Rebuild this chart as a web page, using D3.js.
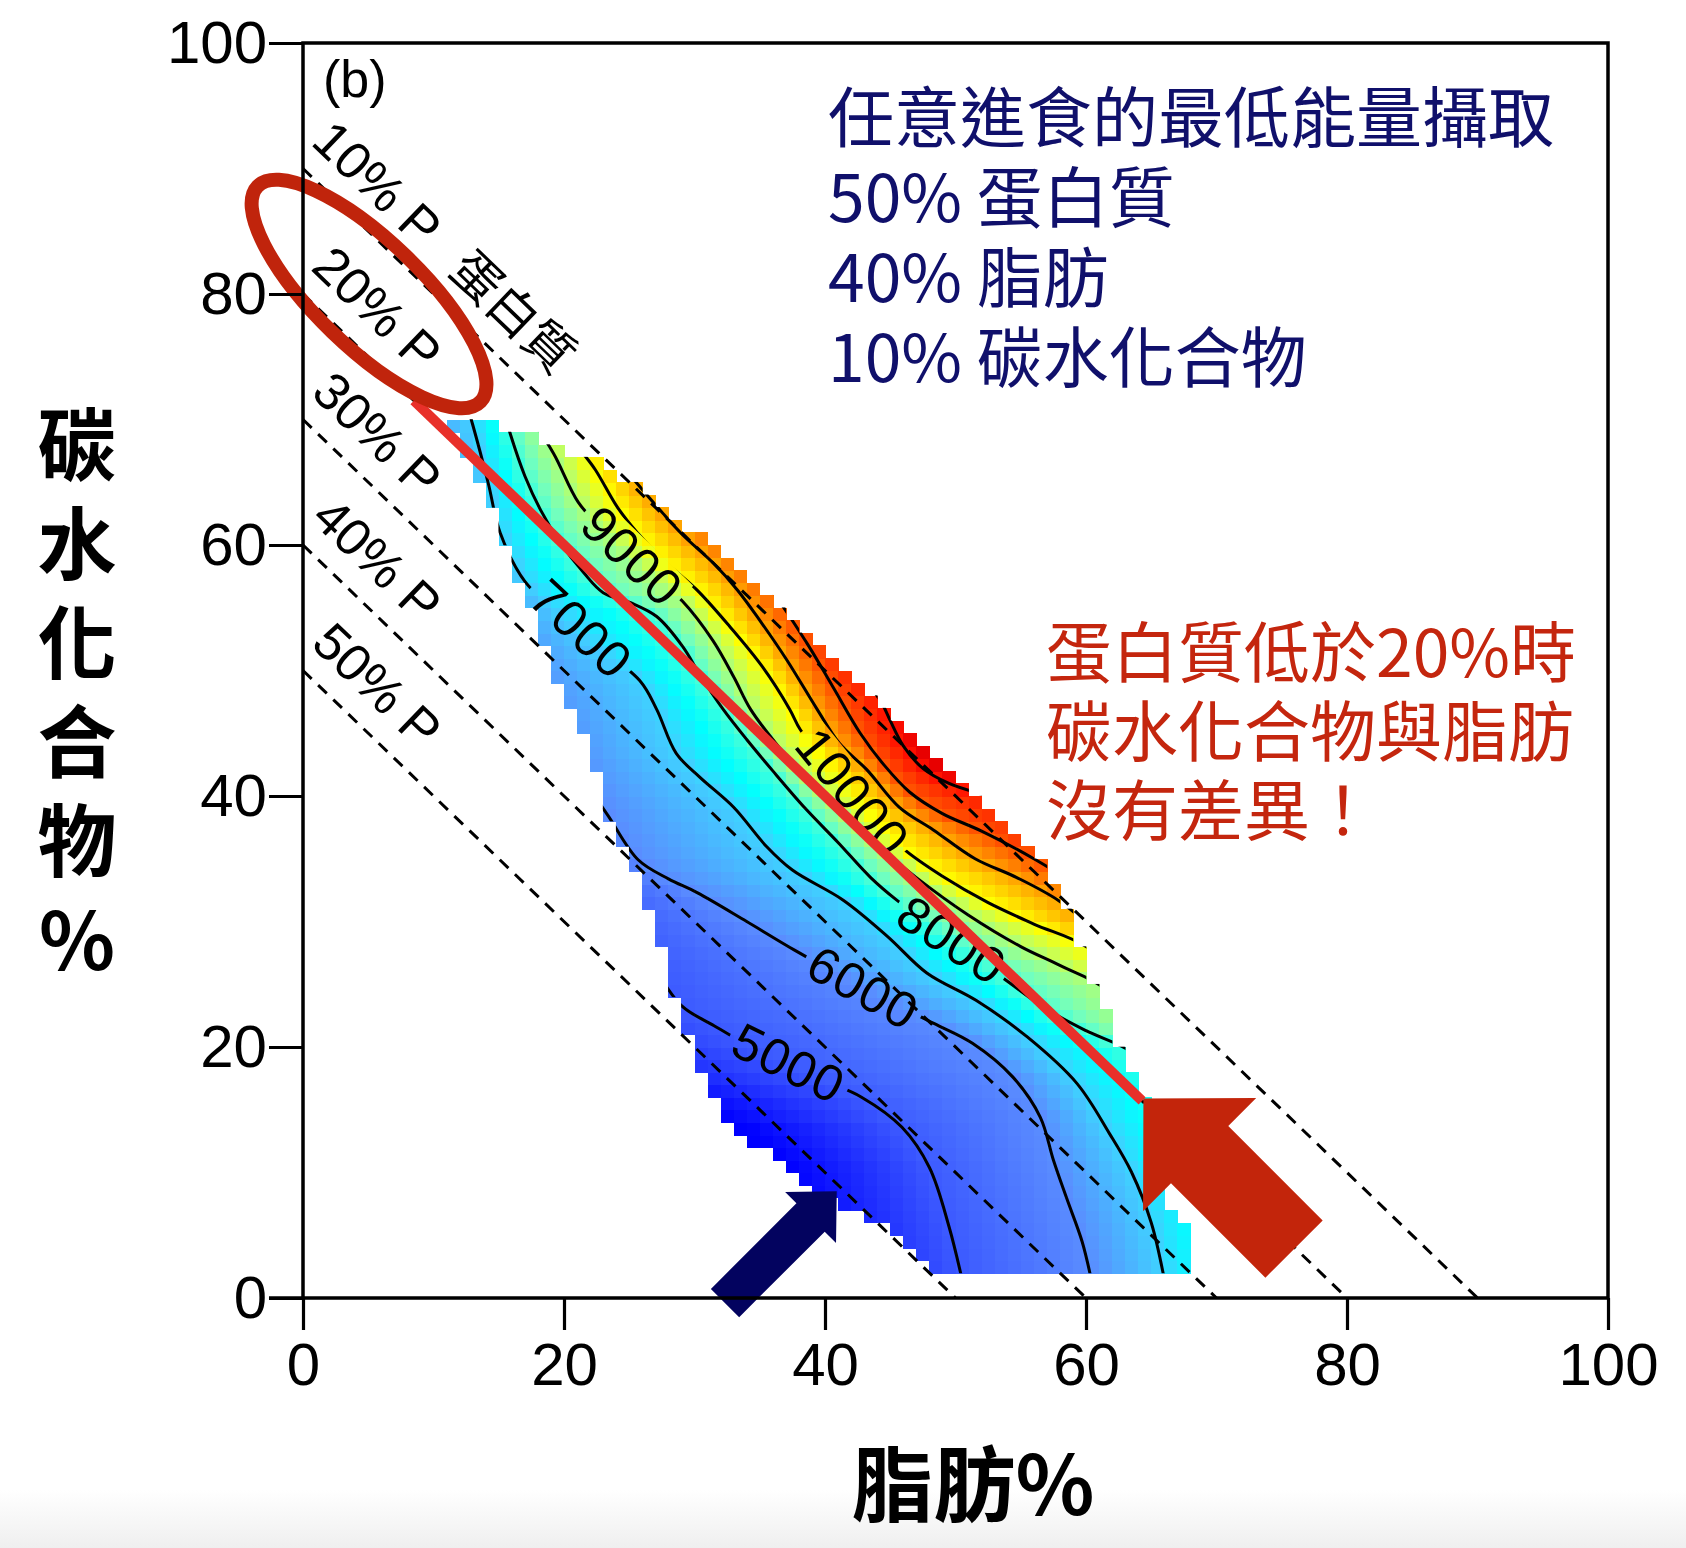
<!DOCTYPE html>
<html><head><meta charset="utf-8">
<script src="https://cdn.jsdelivr.net/npm/d3@7"></script>
<style>
html,body{margin:0;padding:0;background:#fff;}
svg{display:block;}
</style></head>
<body><svg id="chart" width="1686" height="1548"></svg>
<script>
// ---------------- data ----------------
const xTicks = [0, 20, 40, 60, 80, 100];
const yTicks = [0, 20, 40, 60, 80, 100];
const proteinLevels = [10, 20, 30, 40, 50];
const proteinLabels = ["10% P", "20% P", "30% P", "40% P", "50% P"];
const contourLevels = [5000, 6000, 7000, 8000, 9000, 10000, 11000, 12000, 13000];
// contour lines, [fat %, carbohydrate %] (end points may run past the sampled region, where they are clipped)
const c5000 = [[2,71],[5,64],[9,56],[14,47],[19,39],[23,32.5],[26.5,27],[29,23.3],[31.5,21.7],[34,20.2],[37.3,18.6],[40,17.3],[42.8,16],[45.9,13.6],[48,10.4],[49.5,5.7],[50.5,1.5]];
const c6000 = [[7.5,71],[10,65],[13.5,58],[17,50],[20.5,43],[23.4,38.4],[25.7,34.9],[28,33.4],[30.2,32.3],[34,30],[37.7,27.7],[43.1,24.6],[48.3,21.9],[51.3,20.3],[54.4,17.6],[56.5,14.4],[57.5,11],[58.5,8],[59.7,4.5],[60.4,1.5]];
const c7000 = [[12.6,71],[13,69.6],[14.2,64.9],[15.1,61],[17,57.1],[21.3,53],[25.8,49.2],[27.1,46.9],[28.6,43.4],[30.4,41.5],[33,39.1],[35.5,36],[37.5,34.1],[41.4,31.7],[44.8,28.8],[47.8,25.9],[51.6,23.7],[55.5,20.8],[59.3,17.1],[61.8,13.1],[63.5,10],[65,6],[66,1.5]];
const c8000 = [[15.3,71],[15.9,68.8],[17,65.5],[18.2,62.8],[19.7,60.2],[21.5,57.8],[23,56.2],[25.1,55.4],[27.1,54.3],[29.1,51.9],[30.5,49.5],[32.2,46.9],[34,44.5],[36,42],[38.5,39],[41,36.3],[43.5,33.5],[45.5,31.7],[49.7,28.5],[53.9,25.3],[57,23],[60,21.3],[63.5,19.6],[66,17],[69,12]];
const c9000 = [[17.4,70.2],[19.2,67.3],[21.1,63.4],[23,61.2],[25,59.3],[27,57.4],[29.1,55.5],[31.4,52.4],[33,49.5],[34.3,46.9],[36,44.5],[38,42],[40.5,39.5],[43.5,36.5],[47,33.5],[51,30.5],[55,28],[58,26.5],[61.5,24.6],[64,21],[67,17]];
const c10000 = [[19.5,71],[21,68],[22.4,66],[24.1,63],[25.6,61],[27.6,58.8],[30.2,56.4],[32.7,53.5],[35.2,50.3],[37.3,46.9],[38.1,45.3],[40,42.8],[42,40.4],[44,38],[46,35.8],[49,33.6],[52.5,31.5],[56,29.8],[60,28],[63,25],[66,21]];
const c11000 = [[21.5,71],[22.5,69],[24.5,66.3],[27.6,62.5],[29.1,60.8],[31.4,58.6],[33.3,56.4],[35,54],[37.1,50.8],[39.4,46.9],[41.1,44.2],[43.2,42.1],[45.7,39.1],[48.3,37.3],[51.5,35],[54.7,33.5],[58,31.6],[61,29],[64,26]];
const c12000 = [[25,71],[28,66],[32,61],[35.8,56.5],[38.6,52.2],[40.6,48.7],[42.7,45],[44.5,42.5],[46.5,40.3],[49,38.6],[52,37.2],[56,35],[59,33],[62,30]];
const c13000 = [[27,71],[30,66],[33,62],[37,57],[41,52],[44.3,47.5],[45,46],[46,44],[47.5,42.2],[49.5,41],[53,39.8],[56,38.5],[59,37]];
const contourLines = [c5000, c6000, c7000, c8000, c9000, c10000, c11000, c12000, c13000];
// outline of the sampled diet region, [fat %, carbohydrate %]
const regionBoundary = [[11,70],[15,70],[15.5,69.3],[19,68.2],[23,66.3],[26,64.5],[30,61],[35,56.2],[40,51.3],[45,46.3],[50,41.3],[55,36.3],[57.5,33.5],[59,29.5],[60.5,25],[62.5,20.5],[64.5,16.5],[65.5,12],[66.5,7.5],[67.6,5.5],[67.6,2],[48.3,2],[46,4.9],[42.7,6.6],[39.4,8.3],[36.1,11.3],[32.8,13.5],[31,17],[29.5,21.2],[27.9,26.3],[26.2,32.3],[23.8,37.5],[21.3,45.2],[19,50.5],[17.2,55.5],[14.3,63.2],[12.5,67],[11,70]];
const contourLabels = [
  {text:"5000", fat:37.2, carb:18.7, angle:26},
  {text:"6000", fat:42.9, carb:24.7, angle:29},
  {text:"7000", fat:21.3, carb:53.3, angle:43},
  {text:"8000", fat:49.7, carb:28.5, angle:33},
  {text:"9000", fat:25.2, carb:59.1, angle:44},
  {text:"10000", fat:42.1, carb:40.3, angle:51}
];
const summaryLines = ["任意進食的最低能量攝取", "50% 蛋白質", "40% 脂肪", "10% 碳水化合物"];
const noteLines = ["蛋白質低於20%時", "碳水化合物與脂肪", "沒有差異！"];
const yTitleChars = ["碳", "水", "化", "合", "物", "%"];
const xTitle = "脂肪%";
const panelTag = "(b)";
const proteinWord = "蛋白質";
const highlightLine = [[8.5,71.5],[64.3,15.7]];
const ellipseCentre = [5.06, 80.0];
const blueArrowTip = [40.9, 8.5];
const redArrowTip = [64.4, 15.9];
// colour ramp (jet-like, as it appears in the picture), energy in kJ
const colourStops = [3900, 5000, 6000, 7000, 7500, 8300, 9200, 10000, 11000, 12000, 13000, 13400];
const colourRamp = ["#0000ff", "#3c5aff", "#5a8cff", "#40d0ff", "#00ffff", "#70ffc0", "#c0ff60", "#ffff00", "#ffa400", "#ff5400", "#ff1000", "#e80000"];

// ---------------- drawing ----------------
const svg = d3.select("#chart");
const x = d3.scaleLinear().domain([0, 100]).range([303, 1608]);
const y = d3.scaleLinear().domain([0, 100]).range([1298, 43]);
const colour = d3.scaleLinear().domain(colourStops).range(colourRamp).clamp(true);
const latin = "'Liberation Sans', Arial, Helvetica, sans-serif";
const cjk = "'Noto Sans CJK TC', 'Noto Sans CJK SC', sans-serif";

const defs = svg.append("defs");
const grad = defs.append("linearGradient").attr("id","fade").attr("x1",0).attr("y1",0).attr("x2",0).attr("y2",1);
grad.append("stop").attr("offset","0").attr("stop-color","#ffffff");
grad.append("stop").attr("offset","1").attr("stop-color","#efefef");
svg.append("rect").attr("x",0).attr("y",0).attr("width",1686).attr("height",1548).attr("fill","#fff");
svg.append("rect").attr("x",0).attr("y",1490).attr("width",1686).attr("height",58).attr("fill","url(#fade)");

// energy field between the contour lines, row by row
function crossingsAt(c) {
  const out = [];
  contourLines.forEach((pts, i) => {
    for (let k = 0; k < pts.length - 1; k++) {
      const a = pts[k], b = pts[k + 1];
      if ((a[1] - c) * (b[1] - c) <= 0 && a[1] !== b[1]) {
        const t = (c - a[1]) / (b[1] - a[1]);
        out.push([a[0] + t * (b[0] - a[0]), contourLevels[i]]);
        break;
      }
    }
  });
  return out.sort((a, b) => a[0] - b[0]);
}
function valueAt(f, c) {
  const cr = crossingsAt(c);
  const lo = 3700, hi = 13400;
  if (!cr.length) return null;
  if (cr.length === 1) return Math.max(lo, Math.min(hi, cr[0][1] + (f - cr[0][0]) * 300));
  const n = cr.length;
  if (f <= cr[0][0]) {
    const s = (cr[1][1] - cr[0][1]) / Math.max(0.8, cr[1][0] - cr[0][0]);
    return Math.max(lo, cr[0][1] - (cr[0][0] - f) * s);
  }
  if (f >= cr[n - 1][0]) {
    const s = (cr[n - 1][1] - cr[n - 2][1]) / Math.max(0.8, cr[n - 1][0] - cr[n - 2][0]);
    return Math.min(hi, cr[n - 1][1] + (f - cr[n - 1][0]) * s);
  }
  for (let k = 0; k < n - 1; k++) {
    if (f >= cr[k][0] && f <= cr[k + 1][0]) {
      const t = (f - cr[k][0]) / Math.max(1e-6, cr[k + 1][0] - cr[k][0]);
      return cr[k][1] + t * (cr[k + 1][1] - cr[k][1]);
    }
  }
  return null;
}
const cells = [];
for (let i = 0; i < 100; i++) for (let j = 0; j < 100; j++) {
  const p = [i + 0.5, j + 0.5];
  if (d3.polygonContains(regionBoundary, p)) {
    const v = valueAt(p[0], p[1]);
    if (v !== null) cells.push({f: i, c: j, v});
  }
}
const clip = defs.append("clipPath").attr("id","regionClip");
clip.selectAll("rect").data(cells).join("rect")
  .attr("x", d => x(d.f) - 0.3).attr("y", d => y(d.c + 1) - 0.3)
  .attr("width", d => x(d.f + 1) - x(d.f) + 0.6).attr("height", d => y(d.c) - y(d.c + 1) + 0.6);

svg.append("g").attr("shape-rendering","crispEdges")
  .selectAll("rect").data(cells).join("rect")
  .attr("x", d => x(d.f)).attr("y", d => y(d.c + 1))
  .attr("width", d => x(d.f + 1) - x(d.f) + 0.7).attr("height", d => y(d.c) - y(d.c + 1) + 0.7)
  .attr("fill", d => colour(d.v));

// gaps for the inline contour labels
const labelSize = 51;
const mask = defs.append("mask").attr("id","labelGaps").attr("maskUnits","userSpaceOnUse")
  .attr("x",0).attr("y",0).attr("width",1686).attr("height",1548);
mask.append("rect").attr("x",0).attr("y",0).attr("width",1686).attr("height",1548).attr("fill","#fff");
contourLabels.forEach(l => {
  const w = l.text.length * labelSize * 0.556 + 16;
  mask.append("rect").attr("x", -w / 2).attr("y", -labelSize * 0.42).attr("width", w).attr("height", labelSize * 0.84)
    .attr("transform", `translate(${x(l.fat)},${y(l.carb)}) rotate(${l.angle})`).attr("fill","#000");
});
const line = d3.line().x(d => x(d[0])).y(d => y(d[1])).curve(d3.curveCatmullRom.alpha(0.5));
svg.append("g").attr("clip-path","url(#regionClip)").append("g").attr("mask","url(#labelGaps)")
  .selectAll("path").data(contourLines).join("path")
  .attr("d", line).attr("fill","none").attr("stroke","#000").attr("stroke-width",3);
svg.append("g").selectAll("text").data(contourLabels).join("text")
  .attr("transform", d => `translate(${x(d.fat)},${y(d.carb)}) rotate(${d.angle})`)
  .attr("text-anchor","middle").attr("dominant-baseline","central")
  .attr("font-family", latin).attr("font-size", labelSize).attr("letter-spacing", 1)
  .attr("fill","#000").text(d => d.text);

// iso-protein dashed lines
svg.append("g").selectAll("line").data(proteinLevels).join("line")
  .attr("x1", x(0)).attr("y1", p => y(100 - p)).attr("x2", p => x(100 - p)).attr("y2", y(0))
  .attr("stroke","#000").attr("stroke-width",3).attr("stroke-dasharray","12,9");
const angle = Math.atan2(y(0) - y(90), x(90) - x(0)) * 180 / Math.PI;
svg.append("g").selectAll("text").data(proteinLevels).join("text")
  .attr("transform", (p) => `translate(${x(0.5)},${y(100 - p + 2)}) rotate(${angle})`)
  .attr("font-family", latin).attr("font-size", 52).attr("fill","#000")
  .text((p, i) => proteinLabels[i]);
svg.append("text").attr("transform", `translate(${x(11)},${y(81.7)}) rotate(${angle})`)
  .attr("font-family", cjk).attr("font-size", 50).attr("fill","#000").text(proteinWord);
svg.append("text").attr("x", 323).attr("y", 97).attr("font-family", latin).attr("font-size", 52).text(panelTag);

// highlight line (20% protein) and ellipse
svg.append("line").attr("x1", x(highlightLine[0][0])).attr("y1", y(highlightLine[0][1]))
  .attr("x2", x(highlightLine[1][0])).attr("y2", y(highlightLine[1][1]))
  .attr("stroke","#e8302a").attr("stroke-width",10);
svg.append("ellipse").attr("cx",0).attr("cy",0).attr("rx",155).attr("ry",53)
  .attr("transform", `translate(${x(ellipseCentre[0])},${y(ellipseCentre[1])}) rotate(44)`)
  .attr("fill","none").attr("stroke","#c0240c").attr("stroke-width",14);

// arrows
function arrow(tip, deg, head, headW, shaftW, len, fill) {
  const t = deg * Math.PI / 180, d = [Math.cos(t), Math.sin(t)], n = [-Math.sin(t), Math.cos(t)];
  const shape = [[0,0],[head,-headW],[head,-shaftW],[len,-shaftW],[len,shaftW],[head,shaftW],[head,headW]];
  const px = [x(tip[0]), y(tip[1])];
  const pts = shape.map(([u, v]) => [px[0] + u * d[0] + v * n[0], px[1] + u * d[1] + v * n[1]]);
  svg.append("polygon").attr("points", pts.map(p => p.join(",")).join(" ")).attr("fill", fill);
}
arrow(blueArrowTip, 135, 37, 36, 20, 158, "#03035f");
arrow(redArrowTip, 45, 79.5, 80, 40.5, 213, "#c3250b");

// frame and axes
svg.append("rect").attr("x", x(0)).attr("y", y(100)).attr("width", x(100) - x(0)).attr("height", y(0) - y(100))
  .attr("fill","none").attr("stroke","#000").attr("stroke-width",3.5);
const gx = svg.append("g").attr("transform", `translate(0,${y(0)})`)
  .call(d3.axisBottom(x).tickValues(xTicks).tickSize(32).tickPadding(12).tickFormat(d3.format("d")));
const gy = svg.append("g").attr("transform", `translate(${x(0)},0)`)
  .call(d3.axisLeft(y).tickValues(yTicks).tickSize(34).tickPadding(2).tickFormat(d3.format("d")));
[gx, gy].forEach(g => {
  g.select(".domain").remove();
  g.selectAll(".tick line").attr("stroke","#000").attr("stroke-width",3.2);
  g.selectAll(".tick text").attr("font-family", latin).attr("font-size", 60).attr("fill","#000");
});
svg.append("line").attr("x1", x(0) - 34).attr("x2", x(0)).attr("y1", y(0)).attr("y2", y(0)).attr("stroke","#000").attr("stroke-width",3.5);

// axis titles
svg.append("text").attr("x", 973).attr("y", 1479).attr("text-anchor","middle").attr("dominant-baseline","central")
  .attr("font-family", cjk).attr("font-weight", 700).attr("font-size", 82).attr("fill","#000").text(xTitle);
svg.append("g").selectAll("text").data(yTitleChars).join("text")
  .attr("x", 77).attr("y", (d, i) => 440 + i * 99).attr("text-anchor","middle").attr("dominant-baseline","central")
  .attr("font-family", cjk).attr("font-weight", 700).attr("font-size", 79).attr("fill","#000").text(d => d);

// annotation text blocks
svg.append("g").selectAll("text").data(summaryLines).join("text")
  .attr("x", 828).attr("y", (d, i) => 113 + i * 80).attr("dominant-baseline","central")
  .attr("font-family", cjk).attr("font-size", 66).attr("fill","#10106b").text(d => d);
svg.append("g").selectAll("text").data(noteLines).join("text")
  .attr("x", 1046).attr("y", (d, i) => 648 + i * 79).attr("dominant-baseline","central")
  .attr("font-family", cjk).attr("font-size", 66).attr("fill","#c4260e").text(d => d);
</script>
</body></html>
